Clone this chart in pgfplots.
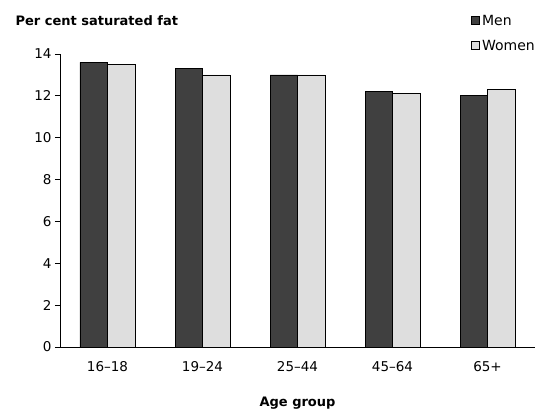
\documentclass[border=0pt]{standalone}
\usepackage{pgfplots}
\pgfplotsset{compat=1.18}
\usetikzlibrary{calc}
\usepackage{fontspec}
\setmainfont{DejaVu Sans}
\definecolor{mencol}{HTML}{404040}
\definecolor{womencol}{HTML}{DEDEDE}
\begin{document}
\begin{tikzpicture}
\begin{axis}[
  name=ax,
  scale only axis,
  width=475pt, height=293pt,
  xmin=-0.5, xmax=4.5,
  ymin=0, ymax=14,
  ytick={0,2,...,14},
  xtick=data,
  xticklabels={16--18,19--24,25--44,45--64,65+},
  axis x line*=bottom,
  axis y line*=left,
  axis line style={-, black, line width=0.8pt},
  x tick style={draw=none},
  y tick style={black, line width=0.8pt},
  major tick length=5pt,
  tick align=outside,
  tick label style={font=\fontsize{13.5}{15}\selectfont},
  /pgf/number format/assume math mode=true,
  xticklabel style={yshift=-6pt},
  xlabel={\bfseries Age group},
  xlabel style={font=\fontsize{13}{15}\selectfont, yshift=-18pt},
  ybar,
  bar width=27.5pt,
  legend style={draw=none, fill=none, font=\fontsize{14}{16}\selectfont,
    at={(1,1)}, anchor=south east, yshift=-2pt, xshift=5pt,
    row sep=9pt, cells={anchor=west}},
  legend image code/.code={\draw[#1, line width=0.6pt] (0pt,-3.5pt) rectangle (8pt,4.5pt);},
]
\addplot[fill=mencol, draw=black, line width=0.8pt, bar shift=-13.75pt]
  coordinates {(0,13.6) (1,13.3) (2,13.0) (3,12.2) (4,12.0)};
\addlegendentry{Men}
\addplot[fill=womencol, draw=black, line width=0.8pt, bar shift=13.75pt]
  coordinates {(0,13.5) (1,13.0) (2,13.0) (3,12.1) (4,12.3)};
\addlegendentry{Women}
\end{axis}
\node[anchor=base west, font=\fontsize{13}{15}\selectfont\bfseries]
  at ($(ax.north west)+(-48pt,28pt)$) {Per cent saturated fat};
\pgfresetboundingbox
\path ($(ax.south west)+(-60pt,-65pt)$) rectangle ($(ax.north east)+(0pt,54pt)$);
\end{tikzpicture}
\end{document}
